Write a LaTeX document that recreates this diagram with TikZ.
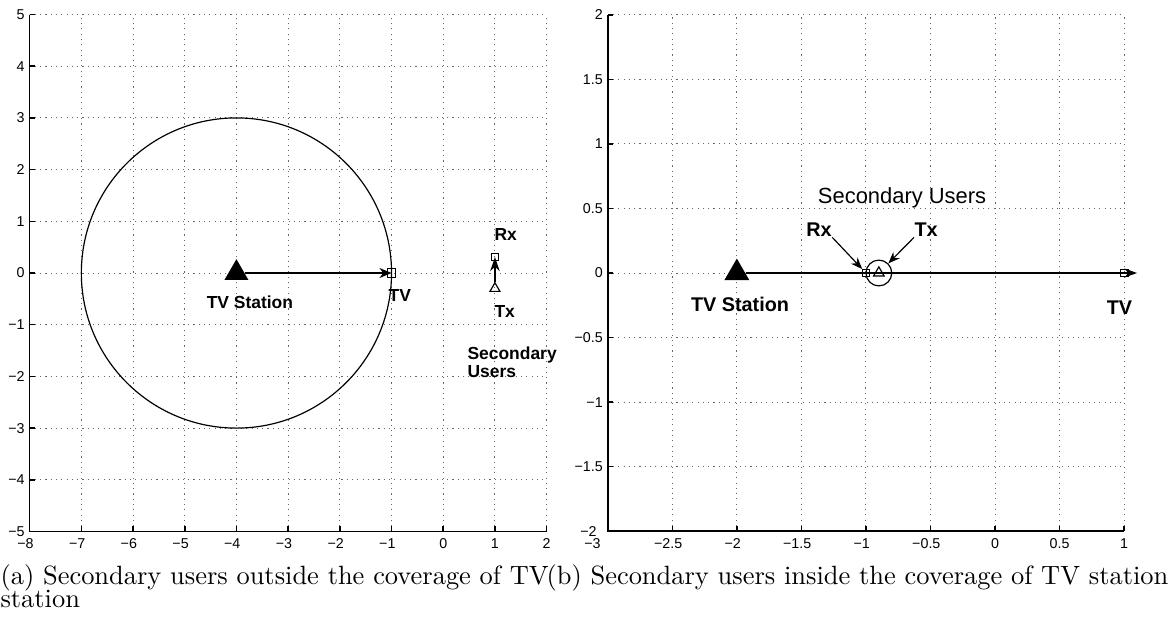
\documentclass[tikz,border=0pt]{standalone}
\usepackage{fontspec}
\usepackage{tikz}
\usetikzlibrary{arrows.meta}
\usetikzlibrary{shapes.geometric}
\newfontfamily\plotfont{Liberation Sans}
\colorlet{gridgray}{black!60}
\newcommand{\negt}{\llap{−}}

\begin{document}
\begin{tikzpicture}[
	gridline/.style={gridgray, line width=0.35pt, dash pattern=on 0.4pt off 1.6pt},
	axisline/.style={line width=0.6pt},
	thinline/.style={line width=0.45pt},
	ticklab/.style={font=\plotfont\fontsize{5.4}{6}\selectfont, inner sep=0pt},
	labA/.style={font=\plotfont\bfseries\fontsize{6.6}{5.7}\selectfont, inner sep=0pt},
	labB/.style={font=\plotfont\bfseries\fontsize{7.5}{9}\selectfont, inner sep=0pt},
	station/.style={regular polygon, regular polygon sides=3, fill=black, inner sep=0pt, minimum size=#1},
	txtri/.style={regular polygon, regular polygon sides=3, draw, thinline, inner sep=0pt, minimum size=#1},
	rxbox/.style={rectangle, draw, thinline, inner sep=0pt, minimum size=#1},
	caption/.style={font=\fontsize{10}{12}\selectfont, inner sep=0pt}
]
	\useasboundingbox (0,0) rectangle (15.601,8.286);

	\begin{scope}[shift={(5.895cm,4.655cm)}, x=0.6876cm, y=0.6876cm]
		\draw[gridline, step=1] (-8,-5) grid (2,5);
		\foreach \i in {-7,...,2} \draw[axisline] (\i,-5) -- ++(0,1.9pt);
		\foreach \j in {-4,...,5} \draw[axisline] (-8,\j) -- ++(1.9pt,0);
		\draw[axisline] (-8,5) -- (-8,-5) -- (2,-5);
		\foreach \i/\t in {-8/\negt8,-7/\negt7,-6/\negt6,-5/\negt5,-4/\negt4,-3/\negt3,-2/\negt2,-1/\negt1,0/0,1/1,2/2}
			\node[ticklab, anchor=north, yshift=-2.6pt] at (\i,-5) {\t};
		\foreach \j/\t in {-5/−5,-4/−4,-3/−3,-2/−2,-1/−1,0/0,1/1,2/2,3/3,4/4,5/5}
			\node[ticklab, anchor=east, xshift=-1.7pt] at (-8,\j) {\t};

		\node[station=0.368cm] (stationA) at (-4,0) {};
		\node[rxbox=0.11cm] (tvA) at (-1,0) {};
		\node[rxbox=0.095cm] (rxA) at (1,0.31) {};
		\node[txtri=0.153cm] (txA) at (1,-0.3) {};
		\draw[thinline] (stationA.center) circle[radius=3];
		\draw[thinline, -{Stealth[length=4.6pt, width=3.8pt]}] (stationA) -- (tvA.center);
		\draw[thinline, -{Stealth[length=5.4pt, width=3.6pt]}] (txA) -- (rxA.center);

		\node[labA] (stlabA) at (-3.74,-0.56) {TV Station};
		\node[labA] (tvlabA) at (-0.84,-0.44) {TV};
		\node[labA] (rxlabA) at (1.21,0.75) {Rx};
		\node[labA] (txlabA) at (1.19,-0.75) {Tx};
		\node[labA, align=left, anchor=west] (sulabA) at (0.46,-1.72) {Secondary\\Users};
	\end{scope}

	\begin{scope}[shift={(13.234cm,4.655cm)}, x=1.717cm, y=1.717cm]
		\draw[gridline, step=0.5] (-3,-2) grid (1,2);
		\foreach \i in {-2.5,-2,...,1} \draw[axisline] (\i,-2) -- ++(0,1.9pt);
		\foreach \j in {-1.5,-1,...,2} \draw[axisline] (-3,\j) -- ++(1.9pt,0);
		\draw[axisline] (-3,2) -- (-3,-2) -- (1,-2);
		\node[ticklab, anchor=north, yshift=-2.6pt, xshift=-4.2pt] at (-3,-2) {\negt3};
		\foreach \i/\t in {-2.5/\negt2.5,-2/\negt2,-1.5/\negt1.5,-1/\negt1,-0.5/\negt0.5,0/0,0.5/0.5,1/1}
			\node[ticklab, anchor=north, yshift=-2.6pt] at (\i,-2) {\t};
		\node[ticklab, anchor=east, xshift=-4pt] at (-3,-2) {−2};
		\foreach \j/\t in {-1.5/−1.5,-1/−1,-0.5/−0.5,0/0,0.5/0.5,1/1,1.5/1.5,2/2}
			\node[ticklab, anchor=east, xshift=-1.7pt] at (-3,\j) {\t};

		\node[station=0.384cm] (stationB) at (-2,0) {};
		\node[rxbox=0.1cm] (tvB) at (1,0) {};
		\node[rxbox=0.09cm] (rxB) at (-1,0) {};
		\node[txtri=0.163cm] (txB) at (-0.9,0) {};
		\node[circle, draw, thinline, inner sep=0pt, minimum size=0.343cm] (suB) at (txB.center) {};
		\coordinate (tipB) at (1.1,0);
		\draw[thinline, -{Stealth[length=4.8pt, width=3.4pt]}] (stationB) -- (tipB);

		\node[font=\plotfont\fontsize{8.3}{10}\selectfont, inner sep=0pt] (sulabB) at (-0.72,0.58) {Secondary Users};
		\node[labB] (rxlabB) at (-1.363,0.333) {Rx};
		\node[labB] (txlabB) at (-0.534,0.333) {Tx};
		\node[labB] (stlabB) at (-1.975,-0.24) {TV Station};
		\node[labB] (tvlabB) at (0.964,-0.271) {TV};
		\draw[thinline, -{Stealth[length=4.4pt, width=3.4pt]}] (rxlabB.south east) -- (rxB);
		\draw[thinline, -{Stealth[length=4.4pt, width=3.4pt]}] (txlabB.south west) -- (suB);
	\end{scope}

	\node[caption, anchor=base west] (capA) at (0,0.51) {(a) Secondary users outside the coverage of TV};
	\node[caption, anchor=base west] (capA2) at (0,0.2) {station};
	\node[caption, anchor=base west] (capB) at (7.262,0.51) {(b) Secondary users inside the coverage of TV station};
\end{tikzpicture}
\end{document}
